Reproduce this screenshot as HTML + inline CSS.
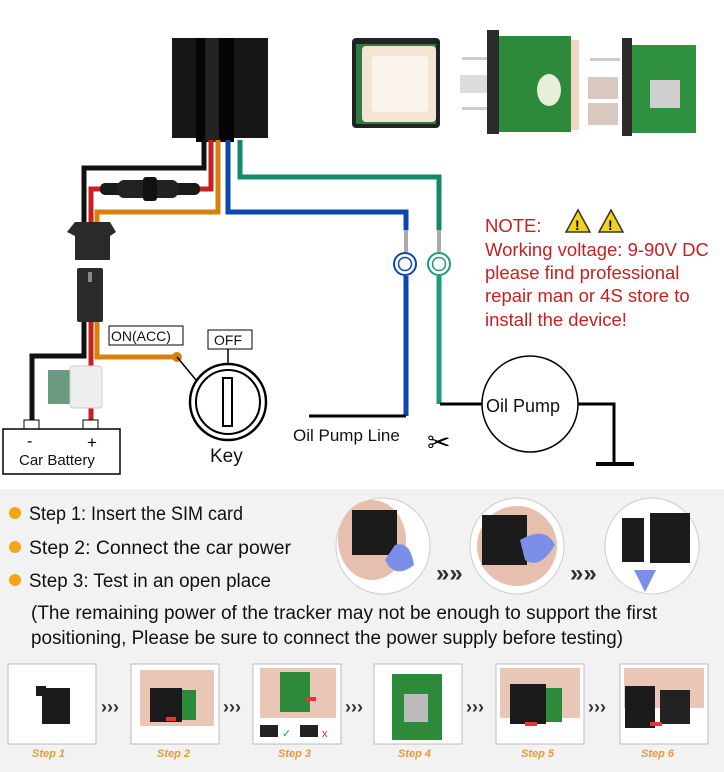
<!DOCTYPE html>
<html><head><meta charset="utf-8"><style>
html,body{margin:0;padding:0;background:#fff}
svg{display:block}
text{font-family:"Liberation Sans",sans-serif}
.n{font-family:"Liberation Sans Narrow","Liberation Sans",sans-serif}
</style></head><body>
<svg width="724" height="772" viewBox="0 0 724 772" xmlns="http://www.w3.org/2000/svg">
<rect width="724" height="772" fill="#fff"/>
<rect x="172" y="38" width="96" height="100" fill="#161616"/>
<rect x="196" y="38" width="38" height="104" fill="#050505"/>
<rect x="205" y="38" width="14" height="104" fill="#222"/>
<g fill="none" stroke-width="5" stroke-linejoin="miter">
<polyline points="204,140 204,168 84,168 84,224" stroke="#111"/>
<polyline points="211,140 211,189 91,189 91,224" stroke="#c8201e"/>
<polyline points="218,140 218,212 97,212 97,224" stroke="#d8800e"/>
<polyline points="228,140 228,212 406,212 406,230" stroke="#0a47b0"/>
<polyline points="240,140 240,177 439,177 439,230" stroke="#12896a"/>
<polyline points="406,276 406,416" stroke="#0a47b0"/>
<polyline points="439,276 439,404" stroke="#1b9a80"/>
<polyline points="84,320 84,356 32,356 32,430" stroke="#111"/>
<polyline points="91,320 91,430" stroke="#c8201e"/>
<polyline points="97,320 97,357 177,357" stroke="#d8800e"/>
</g>
<rect x="100" y="183" width="100" height="12" rx="5" fill="#1a1a1a"/>
<rect x="118" y="180" width="60" height="18" rx="6" fill="#222"/>
<rect x="143" y="177" width="14" height="24" rx="3" fill="#111"/>
<path d="M67,232 L75,222 L110,222 L116,232 L110,236 L110,260 L75,260 L75,236 Z" fill="#2a2a2a"/>
<rect x="77" y="268" width="26" height="54" rx="2" fill="#2b2b2b"/>
<rect x="88" y="272" width="4" height="10" fill="#888"/>
<rect x="48" y="370" width="26" height="34" fill="#6a9a80"/>
<rect x="70" y="366" width="32" height="42" rx="3" fill="#efefef" stroke="#ccc"/>
<rect x="404" y="230" width="4" height="22" fill="#aaa"/>
<rect x="437" y="230" width="4" height="22" fill="#aaa"/>
<circle cx="405" cy="264" r="11" fill="#fff" stroke="#0a47b0" stroke-width="2"/>
<circle cx="405" cy="264" r="6.5" fill="none" stroke="#0a47b0" stroke-width="1.5"/>
<circle cx="439" cy="264" r="11" fill="#fff" stroke="#1b9a80" stroke-width="2"/>
<circle cx="439" cy="264" r="6.5" fill="none" stroke="#1b9a80" stroke-width="1.5"/>
<g stroke="#000" stroke-width="3" fill="none">
<line x1="309" y1="416" x2="406" y2="416"/>
<line x1="440" y1="404" x2="483" y2="404"/>
<polyline points="578,404 614,404 614,464"/>
<line x1="596" y1="464" x2="634" y2="464" stroke-width="4"/>
</g>
<circle cx="530" cy="404" r="48" fill="#fff" stroke="#000" stroke-width="1.5"/>
<text x="486" y="412" font-size="18" fill="#111">Oil Pump</text>
<text x="293" y="441" font-size="17" fill="#111">Oil Pump Line</text>
<text x="427" y="452" font-size="28" fill="#000">✂</text>
<g fill="#c8201e" font-size="18.5">
<text x="485" y="232">NOTE:</text>
<text x="485" y="256">Working voltage: 9-90V DC</text>
<text x="485" y="279">please find professional</text>
<text x="485" y="302">repair man or 4S store to</text>
<text x="485" y="326">install the device!</text>
</g>
<g stroke="#333" stroke-width="1.5" fill="#f2d21a">
<path d="M566,232 L578,210 L590,232 Z"/><path d="M599,232 L611,210 L623,232 Z"/>
</g>
<text x="575" y="230" font-size="14" font-weight="bold" fill="#000">!</text>
<text x="608" y="230" font-size="14" font-weight="bold" fill="#000">!</text>
<rect x="109" y="326" width="74" height="19" fill="#fff" stroke="#000"/>
<text x="111" y="341" font-size="14" fill="#111">ON(ACC)</text>
<circle cx="177" cy="357" r="5" fill="#d8800e"/>
<line x1="177" y1="357" x2="196" y2="380" stroke="#000" stroke-width="1.5"/>
<rect x="208" y="330" width="44" height="19" fill="#fff" stroke="#000"/>
<text x="214" y="345" font-size="14" fill="#111">OFF</text>
<line x1="228" y1="349" x2="228" y2="364" stroke="#000" stroke-width="1.5"/>
<circle cx="228" cy="402" r="38" fill="#fff" stroke="#000" stroke-width="2.5"/>
<circle cx="228" cy="402" r="32" fill="none" stroke="#000" stroke-width="2"/>
<rect x="223" y="378" width="9" height="48" fill="#fff" stroke="#000" stroke-width="2"/>
<text x="210" y="462" font-size="19" fill="#111">Key</text>
<rect x="24" y="420" width="15" height="9" fill="#fff" stroke="#000"/>
<rect x="83" y="420" width="15" height="9" fill="#fff" stroke="#000"/>
<rect x="3" y="429" width="117" height="45" fill="#fff" stroke="#000" stroke-width="1.5"/>
<text x="27" y="446" font-size="16" fill="#000">-</text>
<text x="87" y="448" font-size="17" fill="#000">+</text>
<text x="19" y="465" font-size="15" fill="#111">Car Battery</text>
<rect x="352" y="38" width="88" height="90" rx="4" fill="#222"/>
<rect x="356" y="44" width="80" height="80" fill="#2e7a40"/>
<rect x="362" y="46" width="74" height="76" rx="4" fill="#f4e4d2"/>
<rect x="372" y="56" width="56" height="56" rx="4" fill="#fbf4ec"/>
<rect x="462" y="57" width="30" height="3" fill="#ccc"/>
<rect x="460" y="75" width="30" height="18" fill="#ddd"/>
<rect x="462" y="107" width="30" height="3" fill="#ccc"/>
<rect x="487" y="30" width="12" height="104" fill="#2b2b2b"/>
<rect x="499" y="36" width="72" height="96" fill="#2d8a3a"/>
<rect x="571" y="40" width="8" height="90" fill="#f0d8c4"/>
<ellipse cx="549" cy="90" rx="12" ry="16" fill="#e8efd8"/>
<rect x="590" y="58" width="30" height="3" fill="#ccc"/>
<rect x="588" y="77" width="30" height="22" fill="#d8c8c0"/>
<rect x="588" y="103" width="30" height="22" fill="#d8c8c0"/>
<rect x="622" y="38" width="10" height="98" fill="#2b2b2b"/>
<rect x="632" y="45" width="64" height="88" fill="#2f9140"/>
<rect x="650" y="80" width="30" height="28" fill="#cfcfcf"/>
<rect x="0" y="489" width="724" height="283" fill="#f2f2f2"/>
<g fill="#f2a516"><circle cx="15" cy="513" r="6"/><circle cx="15" cy="547" r="6"/><circle cx="15" cy="580" r="6"/></g>
<g class="n" font-size="19" fill="#111">
<text class="n" x="29" y="520" textLength="214" lengthAdjust="spacingAndGlyphs">Step 1: Insert the SIM card</text>
<text class="n" x="29" y="554" textLength="262" lengthAdjust="spacingAndGlyphs">Step 2: Connect the car power</text>
<text class="n" x="29" y="587" textLength="242" lengthAdjust="spacingAndGlyphs">Step 3: Test in an open place</text>
<text class="n" x="31" y="619" textLength="626" lengthAdjust="spacingAndGlyphs">(The remaining power of the tracker may not be enough to support the first</text>
<text class="n" x="31" y="644" textLength="592" lengthAdjust="spacingAndGlyphs">positioning, Please be sure to connect the power supply before testing)</text>
</g>
<g>
<ellipse cx="383" cy="546" rx="47" ry="48" fill="#fff" stroke="#ccc"/>
<ellipse cx="372" cy="540" rx="34" ry="40" fill="#e7bfae"/>
<rect x="352" y="510" width="45" height="45" fill="#1b1b1b"/>
<path d="M395,545 Q410,540 414,565 Q395,580 385,560 Z" fill="#7b8fe8"/>
<ellipse cx="517" cy="546" rx="47" ry="48" fill="#fff" stroke="#ccc"/>
<ellipse cx="517" cy="546" rx="40" ry="40" fill="#e7bfae"/>
<rect x="482" y="515" width="45" height="50" fill="#1b1b1b"/>
<path d="M520,540 Q545,525 555,545 Q540,570 525,560 Z" fill="#7b8fe8"/>
<ellipse cx="652" cy="546" rx="47" ry="48" fill="#fff" stroke="#ccc"/>
<rect x="622" y="518" width="22" height="44" fill="#1b1b1b"/>
<rect x="650" y="513" width="40" height="50" fill="#1b1b1b"/>
<path d="M634,570 L656,570 L645,592 Z" fill="#7b8fe8"/>
</g>
<g font-size="24" font-weight="bold" fill="#333"><text x="436" y="581">»»</text><text x="570" y="581">»»</text></g>
<g fill="#fff" stroke="#bbb">
<rect x="8" y="664" width="88" height="80"/><rect x="131" y="664" width="88" height="80"/>
<rect x="253" y="664" width="88" height="80"/><rect x="374" y="664" width="88" height="80"/>
<rect x="496" y="664" width="88" height="80"/><rect x="620" y="664" width="88" height="80"/>
</g>
<rect x="42" y="688" width="28" height="36" fill="#1b1b1b"/><rect x="36" y="686" width="10" height="10" fill="#1b1b1b"/>
<rect x="140" y="670" width="74" height="56" fill="#e9c6b6"/><rect x="150" y="688" width="32" height="34" fill="#1b1b1b"/><rect x="182" y="690" width="14" height="30" fill="#2d8a3a"/>
<rect x="260" y="668" width="76" height="50" fill="#e9c6b6"/><rect x="280" y="672" width="30" height="40" fill="#2d8a3a"/><rect x="260" y="725" width="18" height="12" fill="#222"/><rect x="300" y="725" width="18" height="12" fill="#222"/>
<text x="282" y="737" font-size="11" fill="#2a2">✓</text><text x="322" y="737" font-size="11" fill="#e22">x</text>
<rect x="392" y="674" width="50" height="66" fill="#2d8a3a"/><rect x="404" y="694" width="24" height="28" fill="#bbb"/>
<rect x="500" y="668" width="80" height="50" fill="#e9c6b6"/><rect x="510" y="684" width="36" height="40" fill="#1b1b1b"/><rect x="546" y="688" width="16" height="34" fill="#2d8a3a"/>
<rect x="624" y="668" width="80" height="40" fill="#e9c6b6"/><rect x="625" y="686" width="30" height="42" fill="#1b1b1b"/><rect x="660" y="690" width="30" height="34" fill="#222"/>
<g fill="#e33"><rect x="166" y="717" width="10" height="4"/><rect x="306" y="697" width="10" height="4"/><rect x="525" y="722" width="12" height="4"/><rect x="650" y="722" width="12" height="4"/></g>
<g font-size="18" font-weight="bold" fill="#333">
<text x="101" y="713">›››</text><text x="223" y="713">›››</text><text x="345" y="713">›››</text><text x="466" y="713">›››</text><text x="588" y="713">›››</text>
</g>
<g font-size="11" font-weight="bold" font-style="italic" fill="#e49a3a">
<text x="32" y="757">Step 1</text><text x="157" y="757">Step 2</text><text x="278" y="757">Step 3</text>
<text x="398" y="757">Step 4</text><text x="521" y="757">Step 5</text><text x="641" y="757">Step 6</text>
</g>
</svg>
</body></html>
